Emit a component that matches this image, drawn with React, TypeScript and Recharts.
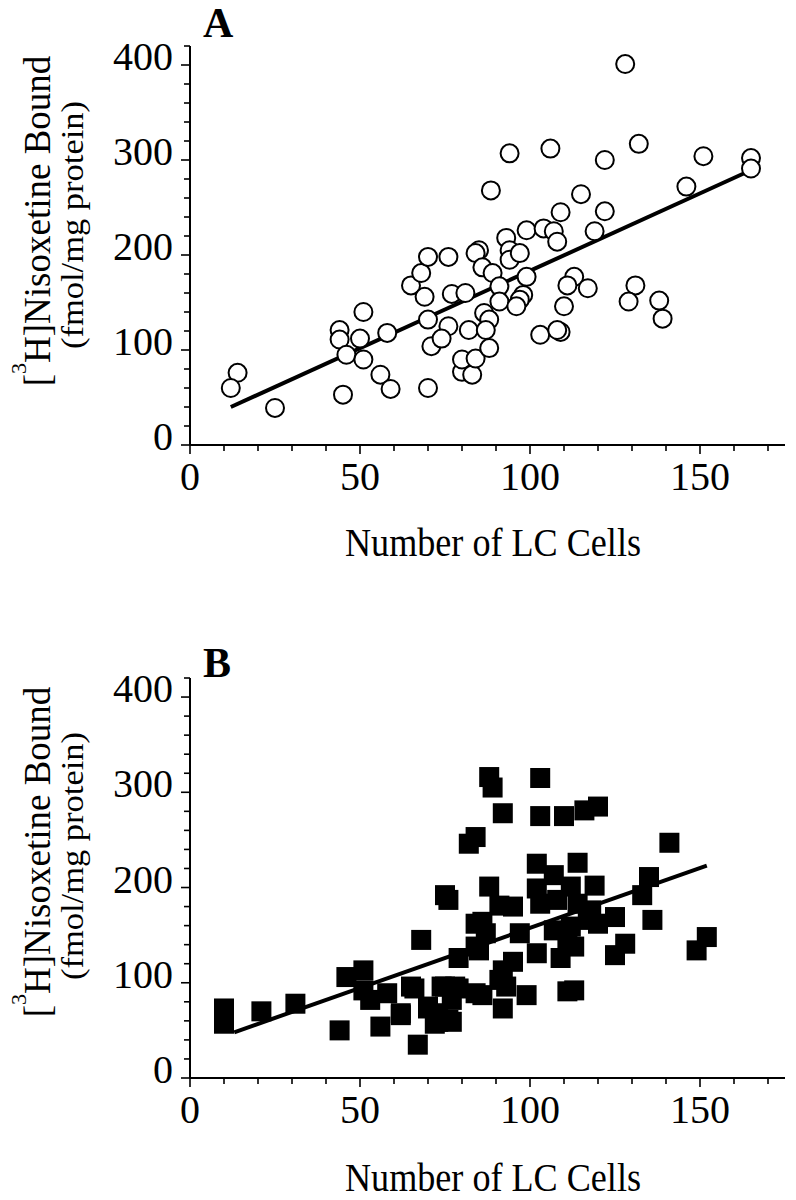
import { Scatter, ScatterChart, XAxis, YAxis } from 'recharts';

const FONT = '"Liberation Serif", "Times New Roman", serif';

// panel A: open circles
const cellsA = [
  14, 12, 25, 44, 44, 45, 46, 50, 51, 51, 58, 56, 59, 65, 68, 70, 69, 70, 71, 70,
  76, 76, 74, 77, 81, 80, 80, 83, 84, 82, 85, 84, 86, 89, 88.5, 86.5, 88, 87, 88, 91,
  91, 93, 94, 94, 97, 94, 99, 99, 98, 97, 96, 106, 104, 107, 108, 109, 115, 122, 122, 119,
  132, 128, 113, 111, 117, 110, 103, 109, 108, 131, 129, 138, 139, 146, 151, 165, 165,
];
const boundA = [
  76, 60, 39, 121, 111, 53, 95, 112, 140, 90, 118, 74, 59, 168, 181, 198, 156, 132, 104, 60,
  198, 125, 112, 159, 160, 77, 90, 74, 91, 121, 205, 202, 187, 181, 268, 139, 132, 121, 102, 167,
  151, 218, 205, 195, 202, 307, 226, 177, 158, 153, 146, 312, 228, 225, 214, 245, 264, 300, 246, 225,
  317, 401, 177, 168, 165, 146, 116, 119, 121, 168, 151, 152, 133, 272, 304, 302, 291,
];

// panel B: filled squares
const cellsB = [
  10, 10, 10, 21, 31, 44, 46, 51, 51, 53, 58, 56, 62, 66, 68, 67, 70, 73, 74, 75,
  76, 77, 78, 77, 79, 82, 84, 84, 84, 84, 88, 89, 103, 92, 103, 110, 116, 120, 141, 102,
  114, 107, 135, 88, 119, 112, 102, 103, 108, 95, 91, 114, 118, 133, 125, 136, 117, 86, 87, 97,
  107, 112, 120, 85, 111, 113, 102, 109, 125, 128, 149, 152, 95, 92, 91, 93, 99, 92, 86, 75,
  79, 73, 76, 72, 70, 65, 62, 111, 113,
];
const boundB = [
  73, 65, 57, 70, 78, 50, 106, 113, 92, 82, 89, 54, 66, 94, 145, 35, 73, 59, 96, 192,
  187, 82, 96, 59, 126, 246, 253, 162, 138, 89, 316, 305, 315, 278, 275, 275, 281, 285, 247, 225,
  226, 213, 211, 201, 202, 201, 199, 183, 187, 180, 181, 183, 176, 192, 169, 166, 166, 164, 152, 152,
  155, 159, 162, 134, 145, 138, 131, 126, 129, 141, 134, 148, 122, 113, 103, 96, 87, 73, 87, 96,
  94, 68, 61, 57, 75, 96, 68, 91, 92,
];

// regression line end points
const fitCellsA = [12, 163];
const fitBoundA = [40, 286];
const fitCellsB = [13, 152];
const fitBoundB = [48, 223];

const xTicks = [0, 10, 20, 30, 40, 50, 60, 70, 80, 90, 100, 110, 120, 130, 140, 150, 160, 170];
const yTicks = [0, 20, 40, 60, 80, 100, 120, 140, 160, 180, 200, 220, 240, 260, 280, 300, 320, 340, 360, 380, 400, 420];

const toPts = (xs: number[], ys: number[]) => xs.map((x, i) => ({ x, y: ys[i] }));

function XTick({ x, y, payload }: any) {
  const major = payload.value % 50 === 0;
  return (
    <g>
      <line x1={x} x2={x} y1={y} y2={y + (major ? 9 : 6)} stroke="#000" strokeWidth={1.6} />
      {major && (
        <text x={x} y={y + 45} textAnchor="middle" fontFamily={FONT} fontSize={40} fill="#000">
          {payload.value}
        </text>
      )}
    </g>
  );
}

function YTick({ x, y, payload }: any) {
  const major = payload.value % 100 === 0;
  return (
    <g>
      <line x1={x} x2={x - (major ? 9 : 6)} y1={y} y2={y} stroke="#000" strokeWidth={1.6} />
      {major && (
        <text x={x - 17} y={y + 5} textAnchor="end" fontFamily={FONT} fontSize={40} fill="#000">
          {payload.value}
        </text>
      )}
    </g>
  );
}

const Ring = ({ cx, cy }: any) => <circle cx={cx} cy={cy} r={9} fill="#fff" stroke="#000" strokeWidth={2} />;
const Block = ({ cx, cy }: any) => <rect x={cx - 10} y={cy - 10} width={20} height={20} fill="#000" />;
const NoDot = () => <g />;

function Panel({ pts, fit, dot, top, marginTop, axisH }: any) {
  return (
    <div style={{ position: 'absolute', left: 0, top }}>
      <ScatterChart width={796} height={600} margin={{ top: marginTop, right: 11, bottom: 0, left: 0 }}>
        <XAxis
          type="number"
          dataKey="x"
          domain={[0, 175]}
          ticks={xTicks}
          interval={0}
          height={axisH}
          tickSize={0}
          tickMargin={0}
          tickLine={false}
          axisLine={{ stroke: '#000', strokeWidth: 2 }}
          tick={<XTick />}
          allowDataOverflow
        />
        <YAxis
          type="number"
          dataKey="y"
          domain={[0, 420]}
          ticks={yTicks}
          interval={0}
          width={190}
          tickSize={0}
          tickMargin={0}
          tickLine={false}
          axisLine={{ stroke: '#000', strokeWidth: 2 }}
          tick={<YTick />}
          allowDataOverflow
        />
        <Scatter
          data={fit}
          fill="#000"
          stroke="#000"
          line={{ stroke: '#000', strokeWidth: 4 }}
          shape={NoDot}
          isAnimationActive={false}
        />
        <Scatter data={pts} shape={dot} isAnimationActive={false} />
      </ScatterChart>
    </div>
  );
}

function YTitle({ cy }: { cy: number }) {
  return (
    <g fontFamily={FONT} fill="#000">
      <text x={50} y={cy - 4} textAnchor="middle" fontSize={37} transform={`rotate(-90, 50, ${cy - 4})`}>
        <tspan>[</tspan>
        <tspan fontSize={22} dy={-24}>3</tspan>
        <tspan dy={24}>H]Nisoxetine Bound</tspan>
      </text>
      <text
        x={83}
        y={cy}
        textAnchor="middle"
        fontSize={31}
        textLength={248}
        lengthAdjust="spacingAndGlyphs"
        transform={`rotate(-90, 83, ${cy})`}
      >
        (fmol/mg protein)
      </text>
    </g>
  );
}

function XTitle({ y }: { y: number }) {
  return (
    <text
      x={493}
      y={y}
      textAnchor="middle"
      fontFamily={FONT}
      fontSize={40}
      textLength={296}
      lengthAdjust="spacingAndGlyphs"
      fill="#000"
    >
      Number of LC Cells
    </text>
  );
}

export default function App() {
  return (
    <div style={{ position: 'absolute', left: 0, top: 0, width: 796, height: 1200, background: '#fff' }}>
      <Panel pts={toPts(cellsA, boundA)} fit={toPts(fitCellsA, fitBoundA)} dot={Ring} top={0} marginTop={46} axisH={155} />
      <Panel pts={toPts(cellsB, boundB)} fit={toPts(fitCellsB, fitBoundB)} dot={Block} top={600} marginTop={78} axisH={122} />
      <svg width={796} height={1200} style={{ position: 'absolute', left: 0, top: 0, pointerEvents: 'none' }}>
        <text x={203} y={37} fontFamily={FONT} fontSize={42} fontWeight="bold" fill="#000">A</text>
        <text x={203} y={677} fontFamily={FONT} fontSize={42} fontWeight="bold" fill="#000">B</text>
        <YTitle cy={225} />
        <YTitle cy={856} />
        <XTitle y={556} />
        <XTitle y={1191} />
      </svg>
    </div>
  );
}
